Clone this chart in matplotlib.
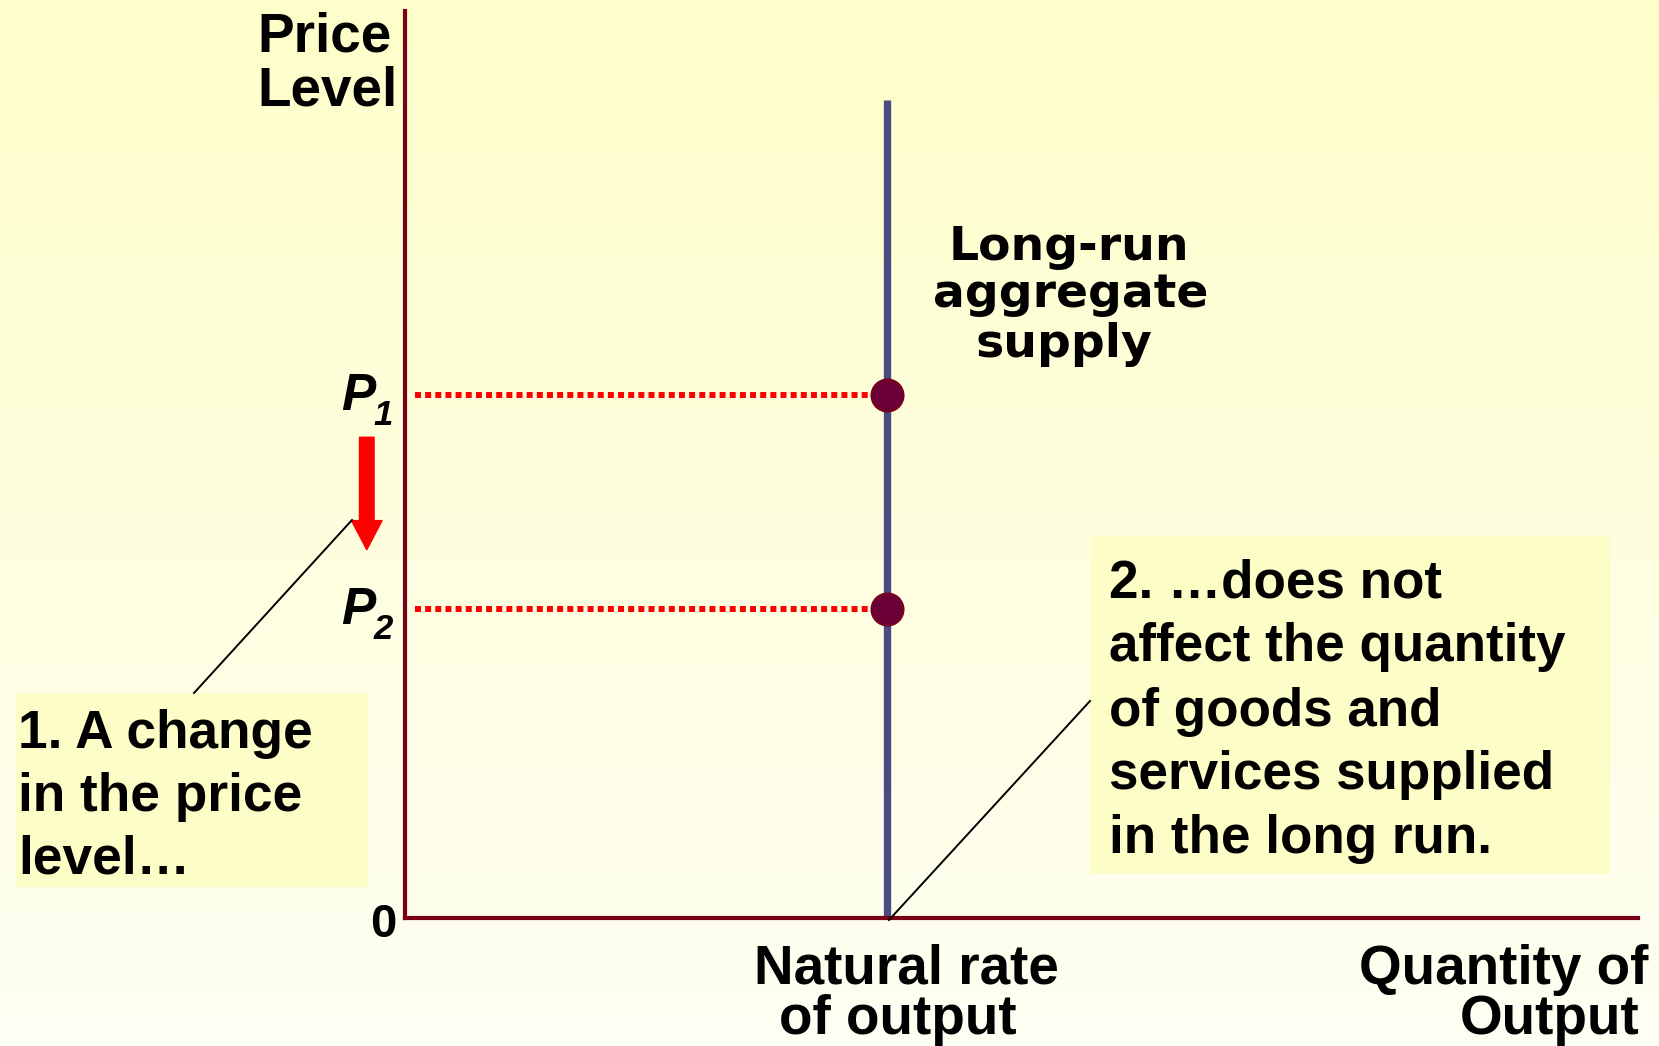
import numpy as np
import matplotlib
matplotlib.use('Agg')
import matplotlib.pyplot as plt
from matplotlib.patches import Rectangle
from matplotlib.lines import Line2D

W, H = 1659, 1046
DPI = 100

# ---------------- data ----------------
x_max, y_max = 10.0, 10.0
natural_rate = 3.91            # position of the vertical LRAS curve
lras_top = 9.02                # top of the LRAS line
price_levels = [5.77, 3.41]    # P1, P2
price_names = ['P', 'P']
price_subs = ['1', '2']
dotted_start = 0.08
arrow_x = -0.31
arrow_from = 5.30
arrow_to = 4.06

box1_lines = ['1. A change', 'in the price', 'level…']
box2_lines = ['2. …does not', 'affect the quantity', 'of goods and',
              'services supplied', 'in the long run.']
lras_label = ['Long-run', 'aggregate', 'supply']
y_label = ['Price', 'Level']
x_tick_label = ['Natural rate', 'of output']
x_label = ['Quantity of', 'Output']

# ---------------- figure ----------------
fig = plt.figure(figsize=(W / DPI, H / DPI), dpi=DPI)


def fx(x):
    return x / W


def fy(y):
    return 1 - y / H


# background gradient
bg = fig.add_axes([0, 0, 1, 1], zorder=-10)
top = np.array([0xfe, 0xfe, 0xca]) / 255
bot = np.array([0xff, 0xff, 0xf3]) / 255
t = np.linspace(0, 1, 256)[:, None]
grad = top[None, :] * (1 - t) + bot[None, :] * t
bg.imshow(grad[:, None, :], aspect='auto', extent=[0, 1, 0, 1])
bg.axis('off')

# main axes
ax = fig.add_axes([405 / W, 1 - 918 / H, (1638 - 405) / W, (918 - 11) / H])
ax.set_xlim(0, x_max)
ax.set_ylim(0, y_max)
ax.patch.set_alpha(0)
for s in ['top', 'right']:
    ax.spines[s].set_visible(False)
for s in ['left', 'bottom']:
    ax.spines[s].set_color('#7a0018')
    ax.spines[s].set_linewidth(3)
    ax.spines[s].set_zorder(4)
ax.set_xticks([])
ax.set_yticks([])

# LRAS vertical line
ax.plot([natural_rate, natural_rate], [0, lras_top], color='#4b4b82',
        lw=5.3, solid_capstyle='butt', zorder=3)

# dotted price lines
for p in price_levels:
    ax.plot([dotted_start, natural_rate], [p, p], color='#ff0000', lw=4.3,
            linestyle=(0, (1, 0.7)), dash_capstyle='butt', zorder=2)

# dots
ax.scatter([natural_rate] * len(price_levels), price_levels, s=530,
           color='#6a0035', edgecolor='#7a0020', linewidth=1.5, zorder=5,
           clip_on=False)

# price labels
for p, n, sub in zip(price_levels, price_names, price_subs):
    ax.annotate(n, xy=(0, p), xycoords='data', xytext=(-46, -10.8),
                textcoords='offset points', fontsize=37, fontweight='bold',
                fontstyle='italic', family='Liberation Sans', va='baseline',
                ha='left', annotation_clip=False)
    ax.annotate(sub, xy=(0, p), xycoords='data', xytext=(-22.5, -22.0),
                textcoords='offset points', fontsize=25, fontweight='bold',
                fontstyle='italic', family='Liberation Sans', va='baseline',
                ha='left', annotation_clip=False)

# red arrow
ax.annotate('', xy=(arrow_x, arrow_to), xytext=(arrow_x, arrow_from),
            xycoords='data',
            arrowprops=dict(arrowstyle='simple,head_length=2.1,head_width=2.2,tail_width=1.05',
                            color='#ff0000', shrinkA=0, shrinkB=0,
                            mutation_scale=10),
            annotation_clip=False)

# text boxes
fig.add_artist(Rectangle((fx(16), fy(887)), (368 - 16) / W, (887 - 693) / H,
                         transform=fig.transFigure, facecolor='#fdfdc8',
                         edgecolor='none', zorder=1))
fig.add_artist(Rectangle((fx(1090), fy(874)), (1610 - 1090) / W, (874 - 536) / H,
                         transform=fig.transFigure, facecolor='#fdfdc8',
                         edgecolor='none', zorder=1))

# leader lines
fig.add_artist(Line2D([fx(352), fx(194)], [fy(520), fy(693)], color='black',
                      lw=1.4, transform=fig.transFigure, zorder=2))
fig.add_artist(Line2D([fx(889), fx(1090)], [fy(920), fy(701)], color='black',
                      lw=1.4, transform=fig.transFigure, zorder=6))

BOLD = dict(fontweight='bold', family='Liberation Sans', va='baseline', zorder=7)

for line, yb in zip(box1_lines, [748, 811, 874]):
    fig.text(fx(18), fy(yb), line, fontsize=38.3, ha='left', **BOLD)
for line, yb in zip(box2_lines, [598, 661, 726, 789, 853]):
    fig.text(fx(1109), fy(yb), line, fontsize=38.2, ha='left', **BOLD)

for line, yb in zip(y_label, [51, 106]):
    fig.text(fx(257), fy(yb), line, fontsize=39.5, ha='left', **BOLD)

for line, xc, yb in zip(lras_label, [1069, 1071, 1064], [260, 307, 357]):
    fig.text(fx(xc), fy(yb), line, fontsize=34, ha='center',
             fontweight='bold', family='DejaVu Sans', va='baseline', zorder=7)

for line, xc, yb in zip(x_tick_label, [906, 898], [984, 1034]):
    fig.text(fx(xc), fy(yb), line, fontsize=39.5, ha='center', **BOLD)
for line, xr, yb in zip(x_label, [1648, 1640], [984, 1034]):
    fig.text(fx(xr), fy(yb), line, fontsize=39.5, ha='right', **BOLD)

fig.text(fx(383), fy(937), '0', fontsize=34, ha='center', **BOLD)

fig.savefig('out.png', dpi=DPI)
